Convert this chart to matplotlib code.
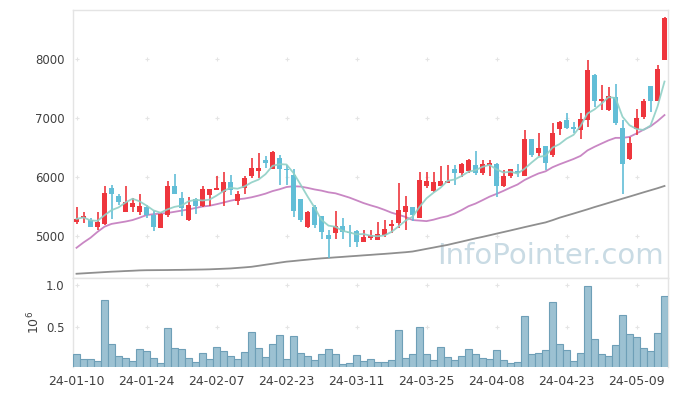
import numpy as np
import pandas as pd
import matplotlib
matplotlib.use('Agg')
import matplotlib.pyplot as plt

# =============================================================================
# Data
# =============================================================================
holidays = ['2024-02-09', '2024-02-12', '2024-03-01', '2024-04-10',
            '2024-05-01', '2024-05-06', '2024-05-15']
dates = pd.bdate_range('2024-01-10', periods=85, freq='C', holidays=holidays)

opens = [5240, 5310, 5270, 5160, 5200, 5810, 5680, 5410, 5500, 5400,
         5490, 5360, 5130, 5360, 5850, 5640, 5270, 5620, 5510, 5690,
         5780, 5750, 5910, 5600, 5810, 6020, 6110, 6290, 6130, 6320,
         6130, 6030, 5630, 5160, 5500, 5340, 5020, 5050, 5170, 5070,
         5080, 4900, 4970, 4930, 5020, 5170, 5220, 5410, 5490, 5300,
         5850, 5770, 5850, 5890, 6140, 6060, 6100, 6200, 6060, 6200,
         6220, 5840, 6010, 6110, 6020, 6640, 6400, 6530, 6370, 6810,
         6970, 6840, 6790, 6970, 7730, 7290, 7140, 7350, 6830, 6300,
         6810, 7010, 7540, 7290, 7980]
highs = [5490, 5400, 5300, 5410, 5850, 5870, 5720, 5840, 5650, 5720,
         5530, 5430, 5390, 5930, 6050, 5740, 5660, 5650, 5850, 5800,
         6020, 6080, 6040, 5760, 6020, 6330, 6410, 6360, 6440, 6370,
         6200, 6130, 5630, 5420, 5520, 5340, 5100, 5420, 5300, 5190,
         5110, 5110, 5100, 5240, 5270, 5270, 5900, 5670, 5490, 6080,
         6080, 6090, 6190, 6200, 6200, 6230, 6310, 6440, 6290, 6280,
         6230, 6120, 6130, 6220, 6800, 6640, 6750, 6530, 6910, 6950,
         7090, 6940, 7080, 7990, 7750, 7560, 7520, 7580, 6970, 6680,
         7150, 7320, 7540, 7900, 8710]
lows = [5200, 5220, 5150, 5100, 5180, 5290, 5520, 5400, 5410, 5350,
        5310, 5090, 5130, 5320, 5710, 5340, 5250, 5370, 5500, 5510,
        5780, 5510, 5700, 5530, 5710, 5980, 5990, 6160, 6130, 5860,
        5870, 5320, 5240, 5130, 5130, 4950, 4620, 4950, 4950, 4820,
        4820, 4900, 4930, 4930, 4990, 5050, 5130, 5110, 5250, 5300,
        5810, 5750, 5840, 5890, 5860, 6000, 6060, 6030, 6030, 6010,
        5660, 5830, 5980, 6000, 6010, 6340, 6360, 6120, 6340, 6710,
        6810, 6740, 6640, 6850, 7190, 7140, 7120, 6880, 5710, 6290,
        6710, 6990, 7110, 7290, 7980]
closes = [5290, 5340, 5160, 5240, 5730, 5720, 5570, 5580, 5560, 5510,
          5360, 5160, 5380, 5850, 5720, 5470, 5520, 5510, 5790, 5790,
          5810, 5910, 5780, 5720, 5980, 6150, 6150, 6240, 6420, 6130,
          6120, 5430, 5270, 5410, 5190, 5060, 4950, 5170, 5070, 5050,
          4900, 4980, 5020, 5030, 5120, 5200, 5440, 5510, 5360, 5950,
          5930, 5920, 5930, 5940, 6070, 6220, 6290, 6060, 6220, 6240,
          5840, 6020, 6130, 6060, 6640, 6370, 6500, 6230, 6750, 6940,
          6830, 6820, 6980, 7810, 7290, 7320, 7370, 6910, 6220, 6570,
          7000, 7290, 7280, 7830, 8690]
volume = [0.18, 0.12, 0.12, 0.10, 0.82, 0.30, 0.16, 0.13, 0.10, 0.24,
          0.22, 0.13, 0.07, 0.49, 0.25, 0.24, 0.13, 0.09, 0.19, 0.125,
          0.26, 0.22, 0.16, 0.125, 0.20, 0.44, 0.25, 0.145, 0.30, 0.405,
          0.125, 0.39, 0.19, 0.16, 0.11, 0.18, 0.24, 0.18, 0.06, 0.075,
          0.17, 0.10, 0.12, 0.09, 0.09, 0.11, 0.46, 0.13, 0.18, 0.50,
          0.18, 0.11, 0.26, 0.145, 0.11, 0.157, 0.24, 0.18, 0.13, 0.12,
          0.23, 0.11, 0.075, 0.09, 0.63, 0.18, 0.19, 0.23, 0.795, 0.30,
          0.23, 0.10, 0.19, 0.98, 0.36, 0.18, 0.157, 0.29, 0.64, 0.42,
          0.38, 0.25, 0.22, 0.43, 0.865]   # x 10^6

# 20-day MA for the first bars (needs history before the chart window)
ma20_head = [4800, 4890, 4970, 5070, 5158, 5205, 5225, 5245, 5270, 5310,
             5355, 5370, 5380, 5390, 5410, 5430, 5450, 5475, 5500]
# 60-day MA as drawn
ma60 = [4360, 4367, 4374, 4381, 4388, 4395, 4400, 4406, 4411, 4417,
        4420, 4421, 4422, 4423, 4425, 4426, 4428, 4430, 4432, 4435,
        4440, 4445, 4450, 4459, 4468, 4478, 4495, 4513, 4530, 4548,
        4565, 4576, 4588, 4599, 4611, 4621, 4629, 4638, 4646, 4655,
        4663, 4672, 4680, 4689, 4697, 4706, 4716, 4725, 4737, 4759,
        4782, 4804, 4827, 4849, 4877, 4904, 4932, 4960, 4985, 5012,
        5040, 5067, 5094, 5122, 5150, 5177, 5204, 5230, 5268, 5310,
        5345, 5380, 5416, 5452, 5490, 5525, 5561, 5597, 5633, 5668,
        5704, 5740, 5775, 5810, 5848]

# =============================================================================
# Derived
# =============================================================================
df = pd.DataFrame({'open': opens, 'high': highs, 'low': lows,
                   'close': closes, 'vol': volume}, index=dates)
x = np.arange(len(df))
ma5 = df['close'].rolling(5, min_periods=1).mean().values
ma20 = df['close'].rolling(20).mean().values
ma20[:len(ma20_head)] = ma20_head

tick_idx = x[::10]
tick_lab = [d.strftime('%y-%m-%d') for d in dates[::10]]

red = '#ee363d'
blue = '#62bed7'
grid_c = '#e4e4e4'
spine_c = '#e4e4e4'
txt_c = '#404040'

# =============================================================================
# Figure
# =============================================================================
W, H = 677, 396
fig = plt.figure(figsize=(W/100, H/100), dpi=100)
ax = fig.add_axes([73/W, (H-278)/H, 595/W, 268/H])
axv = fig.add_axes([73/W, (H-367)/H, 595/W, 89/H])

up = df['close'] >= df['open']
col = np.where(up, red, blue)
body = np.abs(df['close'] - df['open']).values
body = np.maximum(body, 18)
bottom = np.minimum(df['open'], df['close']).values

ax.vlines(x, df['low'], df['high'], colors=col, lw=1.2, zorder=3)
ax.bar(x, body, bottom=bottom, width=0.72, color=col, lw=0, zorder=4)

ax.plot(x, ma5, color='#8fd0c6', lw=1.3, alpha=0.9, zorder=5)
ax.plot(x, ma20, color='#c987c4', lw=1.3, zorder=2)
ax.plot(x, ma60, color='#8f8f8f', lw=1.3, zorder=2)

ax.text(0.802, 0.083, 'InfoPointer.com', transform=ax.transAxes,
        fontsize=21, color='#c9dbe4', ha='center', va='center', zorder=1)

ax.set_xlim(-0.5, 84.5)
ax.set_ylim(4288, 8831)
ax.set_yticks([5000, 6000, 7000, 8000])
ax.set_xticks(tick_idx)
ax.set_xticklabels([])

axv.bar(x, df['vol'], width=0.92, color='#9cc1d2', edgecolor='#6e9fb7',
        lw=0.8, zorder=3)
axv.set_xlim(-0.5, 84.5)
axv.set_ylim(0.025, 1.08)
axv.set_yticks([0.5, 1.0])
axv.set_yticklabels(['0.5', '1.0'])
axv.set_xticks(tick_idx)
axv.set_xticklabels(tick_lab)
fig.text(34/W, 1 - 322/H, r'$10^6$', rotation=90, ha='center', va='center',
         fontsize=9, color=txt_c)

# faint '+' grid marks
for a, yt in ((ax, [5000, 6000, 7000, 8000]), (axv, [0.5, 1.0])):
    gx, gy = np.meshgrid(tick_idx, yt)
    a.scatter(gx.ravel(), gy.ravel(), marker='+', s=12, lw=0.8,
              color=grid_c, zorder=0)
    for s in a.spines.values():
        s.set_color(spine_c)
        s.set_linewidth(1.0)
    a.tick_params(axis='y', length=0, pad=6, labelsize=8.5, labelcolor=txt_c)
    a.tick_params(axis='x', length=3, color=grid_c, pad=5, labelsize=9,
                  labelcolor=txt_c)
axv.spines['bottom'].set_visible(False)
axv.tick_params(axis='x', length=0, pad=6)

plt.savefig('out.png', dpi=100)
